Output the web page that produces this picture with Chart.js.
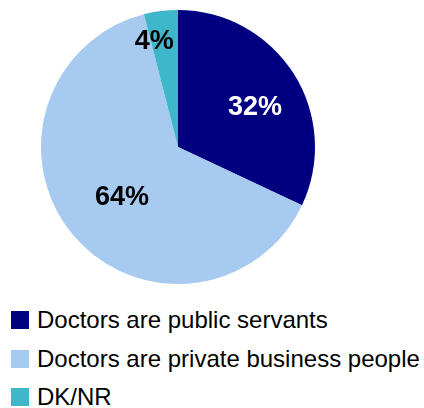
<!DOCTYPE html>
<html lang="en">
<head>
    <meta charset="UTF-8">
    <title>Doctors: public servants or private business people</title>
    <script src="https://cdn.jsdelivr.net/npm/chart.js"></script>
    <style>
        html, body {
            margin: 0;
            padding: 0;
            background: #fff;
        }
        body {
            width: 424px;
            height: 408px;
            position: relative;
            overflow: hidden;
            font-family: "Liberation Sans", Arial, sans-serif;
        }
        .pie-box {
            position: absolute;
            left: 0;
            top: 0;
            width: 424px;
            height: 290px;
        }
        #legend {
            position: absolute;
            left: 11px;
            top: 301px;
            margin: 0;
            padding: 0;
            list-style: none;
        }
        #legend li {
            display: flex;
            align-items: center;
            height: 38.5px;
            font-size: 24px;
            color: #000;
            white-space: nowrap;
        }
        #legend .swatch {
            width: 18px;
            height: 18px;
            margin-right: 8px;
            flex: none;
        }
    </style>
</head>
<body>
    <div class="pie-box">
        <canvas id="pieChart"></canvas>
    </div>
    <ul id="legend"></ul>

    <script>
        // Survey answers
        const answers = ['Doctors are public servants', 'Doctors are private business people', 'DK/NR'];
        const shares = [32, 64, 4];
        const sliceColors = ['#000080', '#a6caf0', '#3fb7cb'];
        const labelColors = ['#ffffff', '#000000', '#000000'];
        // how far out along each slice the percentage sits (fraction of radius)
        const labelRadius = [0.64, 0.53, 0.8];
        const labelNudgeX = [3, 0, -10];
        const labelNudgeY = [8, 4, 3];

        // Draws the percentage inside each slice
        const sliceLabels = {
            id: 'sliceLabels',
            afterDatasetsDraw(chart) {
                const ctx = chart.ctx;
                const arcs = chart.getDatasetMeta(0).data;
                ctx.save();
                ctx.font = 'bold 27px "Liberation Sans", Arial, sans-serif';
                ctx.textAlign = 'center';
                ctx.textBaseline = 'middle';
                arcs.forEach((arc, i) => {
                    const mid = (arc.startAngle + arc.endAngle) / 2;
                    const r = arc.outerRadius * labelRadius[i];
                    const x = arc.x + Math.cos(mid) * r + labelNudgeX[i];
                    const y = arc.y + Math.sin(mid) * r + labelNudgeY[i];
                    ctx.fillStyle = labelColors[i];
                    ctx.fillText(shares[i] + '%', x, y);
                });
                ctx.restore();
            }
        };

        const pieChart = new Chart(document.getElementById('pieChart'), {
            type: 'pie',
            data: {
                labels: answers,
                datasets: [{
                    data: shares,
                    backgroundColor: sliceColors,
                    borderWidth: 0
                }]
            },
            options: {
                responsive: true,
                maintainAspectRatio: false,
                animation: false,
                layout: {
                    padding: { left: 41, right: 109, top: 10, bottom: 6 }
                },
                plugins: {
                    legend: { display: false },
                    tooltip: { enabled: false }
                }
            },
            plugins: [sliceLabels]
        });

        // Legend list built from the same answers and colours
        const legendList = document.getElementById('legend');
        answers.forEach((name, i) => {
            const item = document.createElement('li');
            item.innerHTML = `<span class="swatch" style="background:${sliceColors[i]}"></span><span>${name}</span>`;
            legendList.appendChild(item);
        });
    </script>
</body>
</html>
